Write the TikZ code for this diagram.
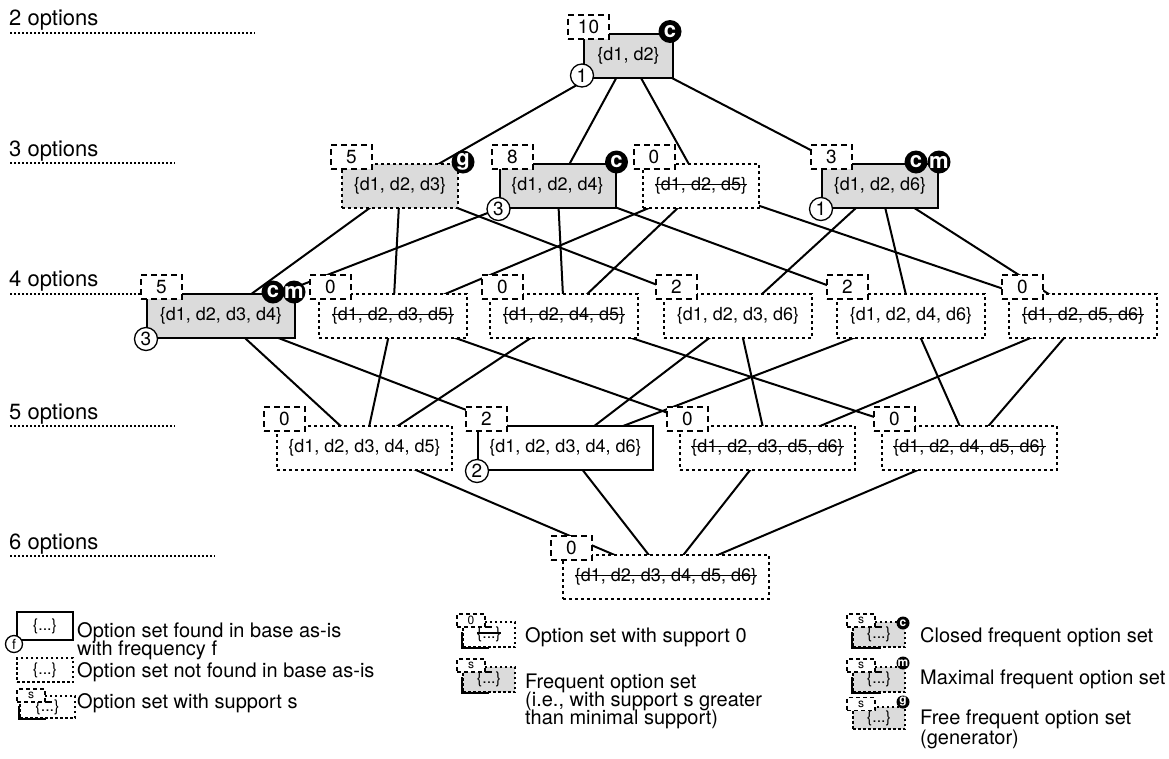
\documentclass[tikz,border=0pt]{standalone}
\usepackage{fontspec}
\setmainfont{TeX Gyre Heros}
\usetikzlibrary{calc}
\pgfdeclarelayer{bg}
\pgfsetlayers{bg,main}
\newcommand\strk[1]{\setbox0=\hbox{#1}\rlap{\rule[0.3em]{\wd0}{1.4pt}}\box0}
\newcommand\suppbox[3]{\node[suppst] (#1s) at ($(#1.north west)+(#2,-6)$) {#3};}
\newcommand\badgeat[3]{\node[badgest] (#1b#2) at ($(#1.north east)+(#3,-1)$) {#2};}
\newcommand\fnumat[2]{\node[fnumst] (#1f) at (#1.south west) {#2};}
\tikzset{
  lat/.style={rectangle, minimum height=44pt, inner sep=0pt, line width=2pt, fill=white,
    font=\fontsize{18}{21}\selectfont},
  found/.style={draw, solid},
  nf/.style={draw, dash pattern=on 3pt off 3pt},
  freq/.style={fill=black!14},
  suppst/.style={draw, fill=white, line width=2pt, dash pattern=on 6pt off 4pt,
    minimum width=41pt, minimum height=24pt, inner sep=0pt, font=\fontsize{19}{21}\selectfont},
  badgest/.style={circle, fill=black, text=white, minimum size=23pt, inner sep=0pt,
    font=\bfseries\fontsize{22}{22}\selectfont},
  fnumst/.style={circle, draw, fill=white, line width=1.3pt, minimum size=23pt, inner sep=0pt,
    font=\fontsize{19}{20}\selectfont},
  edge/.style={line width=2pt},
  lvl/.style={anchor=base west, inner sep=0pt, font=\fontsize{22}{24}\selectfont},
  lvlline/.style={line width=2pt, dash pattern=on 2pt off 2pt},
  leg/.style={anchor=base west, inner sep=0pt, font=\fontsize{20}{22}\selectfont},
  lbox/.style={rectangle, inner sep=0pt, fill=white, font=\fontsize{16}{17}\selectfont},
  lnf/.style={draw, line width=1.5pt, dash pattern=on 2.5pt off 2.5pt},
  lsupp/.style={draw, fill=white, line width=1.2pt, dash pattern=on 4pt off 3pt,
    minimum width=28pt, minimum height=13pt, inner sep=0pt, font=\fontsize{12}{13}\selectfont},
  lbadge/.style={circle, fill=black, text=white, minimum size=13pt, inner sep=0pt,
    font=\bfseries\fontsize{12}{12}\selectfont},
  lsolid/.style={line width=2pt},
}
\begin{document}
\begin{tikzpicture}[x=1pt,y=-1pt]
\useasboundingbox (0,0) rectangle (1169,758);
% level labels
\node[lvl] (lv2) at (9,25) {2 options};
\node[lvl] (lv3) at (9,156) {3 options};
\node[lvl] (lv4) at (9,286) {4 options};
\node[lvl] (lv5) at (9,419) {5 options};
\node[lvl] (lv6) at (9,549) {6 options};
\coordinate (e2) at (255,32.5);
\coordinate (e3) at (175,163);
\coordinate (e4) at (142,294);
\coordinate (e5) at (175,426);
\coordinate (e6) at (215,556);
\foreach \l in {2,3,4,5,6}{
  \draw[lvlline] (lv\l.base west |- e\l) ++(1,0) -- (e\l);
}
% lattice nodes
\node[lat,found,freq,minimum width=89pt] (a12) at (628.5,55.5) {\{d1, d2\}};
\node[lat,nf,freq,minimum width=116pt] (a123) at (400,186) {\{d1, d2, d3\}};
\node[lat,found,freq,minimum width=116pt] (a124) at (557.5,186) {\{d1, d2, d4\}};
\node[lat,nf,minimum width=116pt] (a125) at (701,186) {\strk{\{d1, d2, d5\}}};
\node[lat,found,freq,minimum width=116pt] (a126) at (880,186) {\{d1, d2, d6\}};
\node[lat,found,freq,minimum width=148pt] (a1234) at (221,316) {\{d1, d2, d3, d4\}};
\node[lat,nf,minimum width=148pt] (a1235) at (393,316) {\strk{\{d1, d2, d3, d5\}}};
\node[lat,nf,minimum width=148pt] (a1245) at (564,316) {\strk{\{d1, d2, d4, d5\}}};
\node[lat,nf,minimum width=148pt] (a1236) at (738,316) {\{d1, d2, d3, d6\}};
\node[lat,nf,minimum width=148pt] (a1246) at (911,316) {\{d1, d2, d4, d6\}};
\node[lat,nf,minimum width=148pt] (a1256) at (1083,316) {\strk{\{d1, d2, d5, d6\}}};
\node[lat,nf,minimum width=175pt] (a12345) at (364.5,448) {\{d1, d2, d3, d4, d5\}};
\node[lat,found,minimum width=175pt] (a12346) at (565.5,448) {\{d1, d2, d3, d4, d6\}};
\node[lat,nf,minimum width=175pt] (a12356) at (767.5,448) {\strk{\{d1, d2, d3, d5, d6\}}};
\node[lat,nf,minimum width=175pt] (a12456) at (969.5,448) {\strk{\{d1, d2, d4, d5, d6\}}};
\node[lat,nf,minimum width=206pt] (a123456) at (666,577) {\strk{\{d1, d2, d3, d4, d5, d6\}}};
% edges
\begin{pgfonlayer}{bg}
\foreach \u/\v in {a12/a123,a12/a124,a12/a125,a12/a126,
  a123/a1234,a123/a1235,a123/a1236,
  a124/a1234,a124/a1245,a124/a1246,
  a125/a1235,a125/a1245,a125/a1256,
  a126/a1236,a126/a1246,a126/a1256,
  a1234/a12345,a1234/a12346,
  a1235/a12345,a1235/a12356,
  a1245/a12345,a1245/a12456,
  a1236/a12346,a1236/a12356,
  a1246/a12346,a1246/a12456,
  a1256/a12356,a1256/a12456,
  a12345/a123456,a12346/a123456,a12356/a123456,a12456/a123456}
  \draw[edge] (\u.center) -- (\v.center);
\end{pgfonlayer}
% supports
\suppbox{a12}{5.5}{10}
\suppbox{a123}{10.5}{5}
\suppbox{a124}{14}{8}
\suppbox{a125}{12}{0}
\suppbox{a126}{10.5}{3}
\suppbox{a1234}{15.5}{5}
\suppbox{a1235}{12.5}{0}
\suppbox{a1245}{13.5}{0}
\suppbox{a1236}{13.5}{2}
\suppbox{a1246}{11.5}{2}
\suppbox{a1256}{14.5}{0}
\suppbox{a12345}{8.5}{0}
\suppbox{a12346}{9.5}{2}
\suppbox{a12356}{8.5}{0}
\suppbox{a12456}{13.5}{0}
\suppbox{a123456}{9.5}{0}
% badges
\badgeat{a12}{c}{-4}
\badgeat{a123}{g}{4}
\badgeat{a124}{c}{0}
\badgeat{a126}{c}{-23}
\badgeat{a126}{m}{0}
\badgeat{a1234}{c}{-23}
\badgeat{a1234}{m}{-2}
% frequencies
\node[fnumst] (a12f) at ($(a12.south west)+(-1,-3)$) {1};
\fnumat{a124}{3}
\fnumat{a126}{1}
\fnumat{a1234}{3}
\fnumat{a12346}{2}
% legend column 1
\node[lbox,draw,line width=2pt,minimum width=56pt,minimum height=28pt] (l1) at (45,626) {\{...\}};
\node[circle,draw,fill=white,line width=1.3pt,minimum size=17pt,inner sep=0pt,
  font=\fontsize{14}{14}\selectfont] (l1f) at ($(l1.south west)+(-2,3)$) {f};
\node[leg] (t1) at (77,637) {Option set found in base as-is};
\node[leg] (t1b) at (77,655) {with frequency f};
\node[lbox,lnf,minimum width=56pt,minimum height=24pt] (l2) at (45,670) {\{...\}};
\node[leg] (t2) at (77,677) {Option set not found in base as-is};
\node[lbox,lnf,minimum width=55pt,minimum height=22pt] (l3) at (47.5,707) {\{...\}};
\draw[lsolid] ($(l3.south west)+(0,-13)$) -- (l3.south west) -- ++(27,0);
\node[lsupp] (l3s) at (31,695.5) {s};
\draw[lsolid] (l3s.south east) -- ++(0,-1) -- ++(6,0);
\node[leg] (t3) at (77,708) {Option set with support s};
% legend column 2
\node[lbox,lnf,minimum width=52pt,minimum height=25pt] (l4) at (489,634.5) {\strk{\{...\}}};
\draw[lsolid] ($(l4.south west)+(0,-16)$) -- (l4.south west) -- ++(27,0);
\node[lsupp] (l4s) at (471,620.5) {0};
\draw[lsolid] (l4s.south east) -- ++(0,-1) -- ++(6,0);
\node[leg] (t4) at (525,642) {Option set with support 0};
\node[lbox,lnf,fill=black!14,minimum width=52pt,minimum height=25pt] (l5) at (489,679.5) {\{...\}};
\draw[lsolid] ($(l5.south west)+(0,-16)$) -- (l5.south west) -- ++(27,0);
\node[lsupp] (l5s) at (471,665.5) {s};
\draw[lsolid] (l5s.south east) -- ++(0,-1) -- ++(6,0);
\node[leg] (t5) at (525,688) {Frequent option set};
\node[leg] (t5b) at (525,706) {(i.e., with support s greater};
\node[leg] (t5c) at (525,724) {than minimal support)};
% legend column 3
\node[lbox,lnf,fill=black!14,minimum width=52pt,minimum height=25pt] (l6) at (879,634.5) {\{...\}};
\draw[lsolid] ($(l6.south west)+(0,-16)$) -- (l6.south west) -- ++(29,0);
\node[lsupp] (l6s) at (861,620.5) {s};
\draw[lsolid] (l6s.south east) -- ++(0,-1) -- ++(6,0);
\node[lbadge] (l6b) at (903,623) {c};
\node[leg] (t6) at (920,642) {Closed frequent option set};
\node[lbox,lnf,fill=black!14,minimum width=52pt,minimum height=25pt] (l7) at (879,679.5) {\{...\}};
\draw[lsolid] ($(l7.south west)+(0,-16)$) -- (l7.south west) -- ++(29,0);
\node[lsupp] (l7s) at (861,665.5) {s};
\draw[lsolid] (l7s.south east) -- ++(0,-1) -- ++(6,0);
\node[lbadge] (l7b) at (903,663) {m};
\node[leg] (t7) at (920,684) {Maximal frequent option set};
\node[lbox,lnf,fill=black!14,minimum width=52pt,minimum height=22pt] (l8) at (879,718) {\{...\}};
\node[lsupp] (l8s) at (861,704) {s};
\node[lbadge] (l8b) at (903,702) {g};
\node[leg] (t8) at (920,724) {Free frequent option set};
\node[leg] (t8b) at (920,744) {(generator)};
\end{tikzpicture}
\end{document}
